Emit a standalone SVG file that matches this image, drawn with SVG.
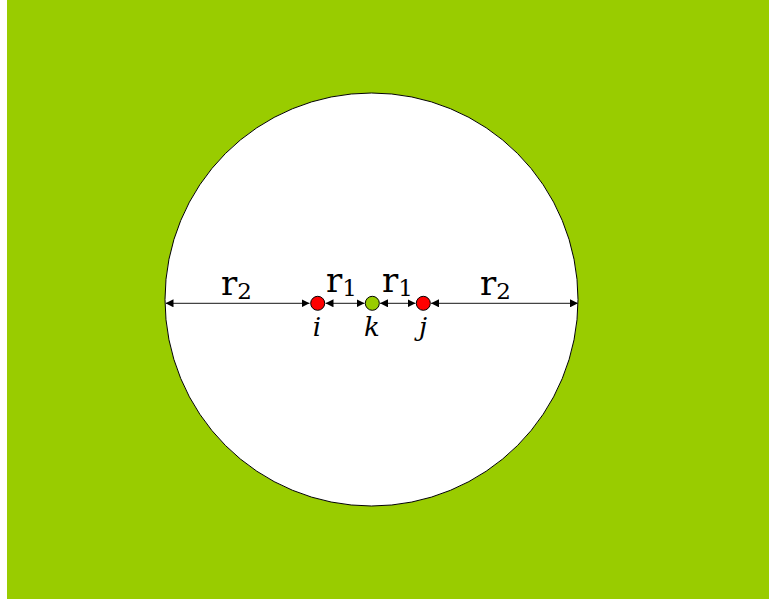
<svg xmlns="http://www.w3.org/2000/svg" width="769" height="599" viewBox="0 0 769 599">
<defs>
<marker id="ah" viewBox="0 0 10 10" refX="10" refY="5" markerWidth="8" markerHeight="8" markerUnits="userSpaceOnUse" orient="auto-start-reverse">
<path d="M0,0 L10,5 L0,10 Z" fill="#000"/>
</marker>
</defs>
<rect x="0" y="0" width="769" height="599" fill="#fff"/>
<rect x="7" y="0" width="762" height="599" fill="#99CC00"/>
<g id="region">
<circle cx="371.5" cy="299.5" r="206.5" fill="#fff" stroke="#000" stroke-width="1"/>
</g>
<g id="connectors" stroke="#444" stroke-width="1.2" fill="none" marker-start="url(#ah)" marker-end="url(#ah)">
<line x1="165.5" y1="303.3" x2="309.5" y2="303.3"/>
<line x1="325.5" y1="303.3" x2="364.5" y2="303.3"/>
<line x1="380" y1="303.3" x2="415.5" y2="303.3"/>
<line x1="431" y1="303.3" x2="578" y2="303.3"/>
</g>
<g id="node-i">
<circle cx="317.7" cy="303.3" r="7" fill="#FF0000" stroke="#000"/>
<text x="317" y="336" text-anchor="middle" font-family="DejaVu Serif, serif" font-size="26" font-style="italic">i</text>
</g>
<g id="node-k">
<circle cx="372.3" cy="303.3" r="7" fill="#99CC00" stroke="#000"/>
<text x="372" y="336" text-anchor="middle" font-family="DejaVu Serif, serif" font-size="26" font-style="italic">k</text>
</g>
<g id="node-j">
<circle cx="423.3" cy="303.3" r="7" fill="#FF0000" stroke="#000"/>
<text x="423" y="336" text-anchor="middle" font-family="DejaVu Serif, serif" font-size="26" font-style="italic">j</text>
</g>
<g id="labels" font-family="DejaVu Serif, serif" font-size="34">
<text x="221" y="295">r<tspan font-size="23" dy="4">2</tspan></text>
<text x="326" y="292">r<tspan font-size="23" dy="4">1</tspan></text>
<text x="382" y="292">r<tspan font-size="23" dy="4">1</tspan></text>
<text x="480" y="295">r<tspan font-size="23" dy="4">2</tspan></text>
</g>
</svg>
